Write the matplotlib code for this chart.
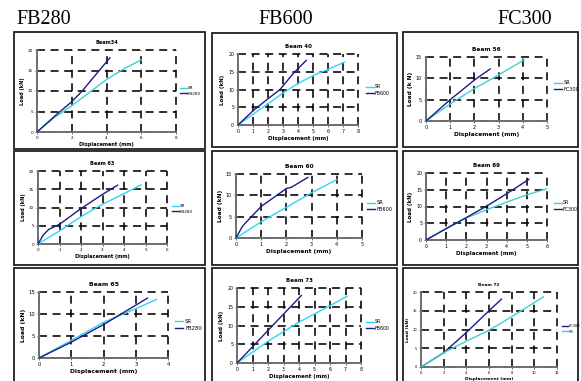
"""Load-displacement curves for nine beams, SR vs FRP strengthened, laid out as a 3x3 sheet."""

import matplotlib

matplotlib.use("Agg")
import matplotlib.pyplot as plt
from matplotlib.patches import Rectangle

W, H = 581, 381

# --- data ------------------------------------------------------------------
column_titles = ["FB280", "FB600", "FC300"]

beam34_sr_x = [0, 1, 2, 3, 4, 5, 6]
beam34_sr_y = [0, 3.5, 6.4, 9.6, 12.8, 15.4, 17.6]
beam34_fb_x = [0, 1, 2, 2.6, 3.5, 4.2]
beam34_fb_y = [0, 3.8, 7.4, 10, 14.6, 18.1]

beam40_sr_x = [0, 1, 2, 3, 4, 5, 6, 7.1]
beam40_sr_y = [0, 3.0, 6.0, 9.0, 11.7, 13.9, 15.7, 17.7]
beam40_fb_x = [0, 1, 2, 2.8, 3.7, 4.55]
beam40_fb_y = [0, 4.0, 7.4, 10, 14.6, 18.2]

beam56_sr_x = [0, 1, 2, 3, 4.05]
beam56_sr_y = [0, 4.0, 7.6, 10.8, 14.3]
beam56_fc_x = [0, 1, 2, 2.65]
beam56_fc_y = [0, 5.0, 9.6, 12.2]

beam63_sr_x = [0, 1, 2, 3, 4, 4.8]
beam63_sr_y = [0, 3.6, 7.5, 10.9, 13.8, 16.2]
beam63_fb_x = [0, 0.25, 0.5, 1, 2, 3, 3.7]
beam63_fb_y = [0, 2.5, 4.0, 5.4, 9.7, 13.6, 16.1]

beam60_sr_x = [0, 1, 2, 3, 4]
beam60_sr_y = [0, 3.8, 7.2, 10.6, 13.7]
beam60_fb_x = [0, 0.25, 0.5, 1, 1.5, 2, 2.2, 2.85]
beam60_fb_y = [0, 2.7, 4.3, 7.4, 9.5, 11.6, 11.9, 14.2]

beam69_sr_x = [0, 1, 2, 3, 4, 5, 6]
beam69_sr_y = [0, 3.4, 6.6, 9.0, 11.3, 13.5, 15.3]
beam69_fc_x = [0, 1, 2, 3, 4, 5.1]
beam69_fc_y = [0, 3.4, 6.7, 10.1, 13.8, 18.1]

beam65_sr_x = [0, 1, 2, 3, 3.64]
beam65_sr_y = [0, 4.0, 8.1, 11.2, 13.3]
beam65_fb_x = [0, 1, 2, 3, 3.36]
beam65_fb_y = [0, 3.6, 7.6, 12.0, 13.6]

beam73_sr_x = [0, 2, 4, 6, 7.1]
beam73_sr_y = [0, 5.8, 10.9, 15.3, 17.8]
beam73_fb_x = [0, 1, 2.3, 4.15]
beam73_fb_y = [0, 4.3, 10, 18.0]

beam72_sr_x = [0, 2, 4, 6, 8, 10.8]
beam72_sr_y = [0, 3.8, 6.9, 9.8, 13.4, 18.7]
beam72_fc_x = [0, 2, 4, 6, 7.1]
beam72_fc_y = [0, 3.8, 9.2, 15.0, 18.1]

NAVY = "#1c1c84"
CYAN = "#2fd6f6"
TEAL = "#3fd0d0"

# panel frame (x0, y0, x1, y1), plot area (x0, y0, x1, y1), legend anchor (x, y) in pixels
panels = [
    dict(title="Beam34", frame=(14, 32, 205, 149), area=(37, 50, 176, 132), leg=(180, 91),
         xmax=8, xstep=2, ymax=20, ystep=5, ylabel="Load (kN)", sr_color=TEAL, fs=3.6,
         series=[("SR", beam34_sr_x, beam34_sr_y), ("FB280", beam34_fb_x, beam34_fb_y)]),
    dict(title="Beam 40", frame=(212, 33, 397, 147), area=(238, 54, 358, 125), leg=(366, 90),
         xmax=8, xstep=1, ymax=20, ystep=5, ylabel="Load (kN)", sr_color=CYAN, fs=4.0,
         series=[("SR", beam40_sr_x, beam40_sr_y), ("FB600", beam40_fb_x, beam40_fb_y)]),
    dict(title="Beam 56", frame=(403, 32, 578, 147), area=(426, 57, 547, 121), leg=(554, 86),
         xmax=5, xstep=1, ymax=15, ystep=5, ylabel="Load (k N)", sr_color=TEAL, fs=4.2,
         series=[("SR", beam56_sr_x, beam56_sr_y), ("FC300", beam56_fc_x, beam56_fc_y)]),
    dict(title="Beam 63", frame=(14, 151, 205, 265), area=(38, 171, 167, 244), leg=(172, 209),
         xmax=6, xstep=1, ymax=20, ystep=5, ylabel="Load (kN)", sr_color=CYAN, fs=3.6,
         series=[("SR", beam63_sr_x, beam63_sr_y), ("FB280", beam63_fb_x, beam63_fb_y)]),
    dict(title="Beam 60", frame=(212, 151, 397, 265), area=(236, 174, 362, 238), leg=(367, 206),
         xmax=5, xstep=1, ymax=15, ystep=5, ylabel="Load (kN)", sr_color=CYAN, fs=4.2,
         series=[("SR", beam60_sr_x, beam60_sr_y), ("FB600", beam60_fb_x, beam60_fb_y)]),
    dict(title="Beam 69", frame=(403, 151, 578, 265), area=(426, 173, 547, 240), leg=(554, 206),
         xmax=6, xstep=1, ymax=20, ystep=5, ylabel="Load (kN)", sr_color=TEAL, fs=4.0,
         series=[("SR", beam69_sr_x, beam69_sr_y), ("FC300", beam69_fc_x, beam69_fc_y)]),
    dict(title="Beam 65", frame=(14, 268, 205, 384), area=(39, 292, 168, 358), leg=(175, 325),
         xmax=4, xstep=1, ymax=15, ystep=5, ylabel="Load (kN)", sr_color=CYAN, fs=4.4,
         series=[("SR", beam65_sr_x, beam65_sr_y), ("FB280", beam65_fb_x, beam65_fb_y)]),
    dict(title="Beam 73", frame=(212, 268, 397, 384), area=(237, 288, 361, 363), leg=(366, 325),
         xmax=8, xstep=1, ymax=20, ystep=5, ylabel="Load (kN)", sr_color=CYAN, fs=4.0,
         series=[("SR", beam73_sr_x, beam73_sr_y), ("FB600", beam73_fb_x, beam73_fb_y)]),
    dict(title="Beam 72", frame=(403, 268, 578, 384), area=(421, 292, 557, 367), leg=(562, 329),
         xmax=12, xstep=2, ymax=20, ystep=5, ylabel="Load (kN)", sr_color=TEAL, fs=3.2,
         series=[("FC300", beam72_fc_x, beam72_fc_y), ("SR", beam72_sr_x, beam72_sr_y)]),
]
title_centers = [44, 286, 525]


def fig_rect(x0, y0, x1, y1):
    return [x0 / W, 1 - y1 / H, (x1 - x0) / W, (y1 - y0) / H]


fig = plt.figure(figsize=(W / 100, H / 100), dpi=100)
fig.patch.set_facecolor("white")

for text, cx in zip(column_titles, title_centers):
    fig.text(cx / W, 1 - 19 / H, text, ha="center", va="center",
             fontsize=14.5, family="Liberation Serif")

for p in panels:
    x0, y0, x1, y1 = p["frame"]
    fig.add_artist(Rectangle((x0 / W, 1 - y1 / H), (x1 - x0) / W, (y1 - y0) / H,
                             transform=fig.transFigure, fill=False,
                             edgecolor="#202020", linewidth=1.3))

    ax = fig.add_axes(fig_rect(*p["area"]))
    fs = p["fs"]
    for label, xs, ys in p["series"]:
        color = p["sr_color"] if label == "SR" else NAVY
        ax.plot(xs, ys, color=color, linewidth=1.0, label=label, zorder=3)

    ax.set_xlim(0, p["xmax"])
    ax.set_ylim(0, p["ymax"])
    ax.set_xticks(range(0, p["xmax"] + 1, p["xstep"]))
    ax.set_yticks(range(0, p["ymax"] + 1, p["ystep"]))
    # Excel-style heavy dashed grid, drawn up to the outer limits too
    ax.grid(True, color="black", linestyle=(0, (5, 3.5)), linewidth=1.15, clip_on=False)
    for side in ("top", "right"):
        ax.spines[side].set_visible(False)
    for side in ("left", "bottom"):
        ax.spines[side].set_color("#707070")
        ax.spines[side].set_linewidth(1.4)
    ax.tick_params(direction="inout", length=2.5, width=0.6, color="#555555",
                   labelsize=fs - 0.6, pad=1.5)

    ax.set_title(p["title"], fontsize=fs, fontweight="bold", pad=4)
    ax.set_xlabel("Displacement (mm)", fontsize=fs, fontweight="bold", labelpad=1.5)
    ax.set_ylabel(p["ylabel"], fontsize=fs, fontweight="bold", labelpad=2)

    handles, labels = ax.get_legend_handles_labels()
    lx, ly = p["leg"]
    fig.legend(handles, labels, loc="center left", bbox_to_anchor=(lx / W, 1 - ly / H),
               frameon=False, fontsize=fs - 0.6, handlelength=1.6, handletextpad=0.3,
               labelspacing=0.3, borderpad=0, borderaxespad=0)

fig.savefig("out.png", dpi=100)
